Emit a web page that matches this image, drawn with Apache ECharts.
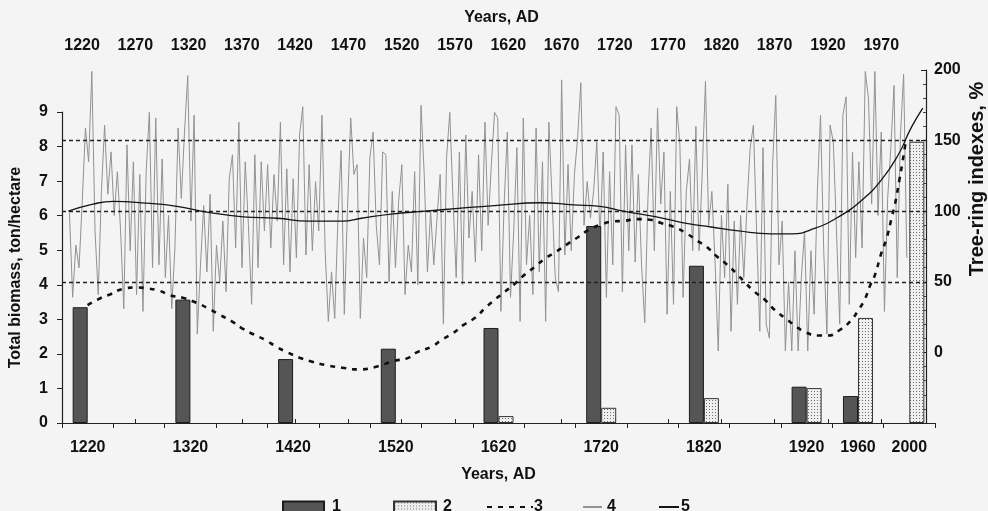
<!DOCTYPE html>
<html>
<head>
<meta charset="utf-8">
<script src="https://cdn.jsdelivr.net/npm/echarts@6/dist/echarts.min.js"></script>
<style>
html,body{margin:0;padding:0;background:#f4f4f4;}
#chart{width:988px;height:511px;}
</style>
</head>
<body>
<div id="chart"></div>
<script>
// ---- Data ----
const periodLabels = ['1220','','1320','','1420','','1520','','1620','','1720','','1820','','1920','1960','2000'];
const biomassSeries1 = [3.35,'-',3.57,'-',1.85,'-',2.15,'-',2.75,'-',5.7,'-',4.55,'-',1.05,0.78,'-'];
const biomassSeries2 = ['-','-','-','-','-','-','-','-',0.2,'-',0.44,'-',0.72,'-',1.01,3.04,8.14];

const topAxisYears = [1220,1270,1320,1370,1420,1470,1520,1570,1620,1670,1720,1770,1820,1870,1920,1970];
const rightAxisTicks = [0,50,100,150,200];
const guideLevels = [50,100,150];

// tree-ring index (%), sampled every 3 years from 1208
const treeRingStart = 1208;
const treeRingStep = 3;
const treeRingValues = [
 99,39,76,60,107,159,135,199,86,41,
 114,161,112,142,97,128,86,31,147,72,
 135,41,126,29,128,170,60,166,62,137,
 53,97,31,74,159,109,156,196,93,168,
 13,62,104,57,112,15,76,50,93,43,
 123,140,74,163,60,135,90,34,140,60,
 135,86,133,74,126,93,
 163,62,130,57,123,67,154,174,69,133,
 72,121,86,168,72,22,57,24,95,143,
 27,102,166,126,133,24,81,53,138,156,
 90,62,142,140,50,114,60,107,133,41,
 76,57,128,48,175,126,57,100,62,95,
 126,20,138,170,109,53,142,48,154,81,
 114,64,140,72,163,90,133,170,
 166,29,105,156,39,86,145,22,166,62,
 97,41,159,57,135,22,163,109,53,43,
 193,69,133,72,126,152,191,90,121,95,
 114,149,81,142,39,128,62,174,168,43,
 147,72,147,64,126,62,21,109,159,72,
 173,105,142,27,114,34,174,147,39,114,
 137,72,160,72,128,192,90,
 114,64,1,97,53,119,15,93,34,97,
 53,105,145,161,86,15,145,20,10,133,
 182,62,93,1,50,1,72,1,53,86,
 1,72,27,114,168,72,13,161,149,86,
 20,168,181,34,142,67,135,74,199,180,
 105,199,97,156,29,109,145,189,53,154,
 197,67
];

// smoothed tree-ring index (%)
const smoothYears = [1207,1230,1249,1280,1309,1340,1371,1403,1432,1464,1482,1510,1542,1573,1607,1650,1681,1706,1728,1759,1790,1809,1836,1867,1886,1908,1930,1952,1970,1986,1998,2009];
const smoothValues = [100,105,107,105.7,103.4,99,96,95,93,93,95,98,100,102,104,106,104.5,103.4,100,96,91,89,86,84,84,88,96,108,122,140,159,173];

// biomass trend (ton/hectare)
const trendYears = [1225,1237,1246,1258,1270,1280,1293,1302,1316,1327,1338,1349,1360,1370,1381,1392,1402,1413,1424,1435,1448,1464,1479,1495,1513,1525,1535,1548,1557,1568,1578,1589,1598,1607,1615,1626,1636,1645,1654,1665,1675,1686,1695,1706,1718,1729,1740,1753,1764,1775,1787,1797,1806,1815,1825,1834,1842,1851,1861,1870,1880,1889,1898,1911,1920,1931,1941,1948,1955,1959,1964,1970,1975,1980,1983,1987,1990,1993];
const trendValues = [3.41,3.61,3.72,3.88,3.92,3.9,3.82,3.70,3.61,3.48,3.32,3.13,2.95,2.74,2.56,2.40,2.21,2.04,1.89,1.78,1.68,1.60,1.55,1.62,1.80,1.87,2.06,2.21,2.40,2.60,2.84,3.05,3.32,3.56,3.76,4.03,4.31,4.52,4.75,4.96,5.17,5.39,5.58,5.73,5.83,5.85,5.90,5.88,5.78,5.68,5.49,5.28,5.10,4.84,4.59,4.33,4.07,3.80,3.56,3.27,3.03,2.82,2.64,2.53,2.53,2.69,2.95,3.24,3.61,3.94,4.28,4.91,5.34,5.97,6.35,7.03,7.56,8.14];

// ---- Build ----
const treeRingData = treeRingValues.map((v,i)=>[treeRingStart + i*treeRingStep, v]);
const smoothData = smoothYears.map((y,i)=>[y, smoothValues[i]]);
const trendData = trendYears.map((y,i)=>[y, trendValues[i]]);

function dotPattern(){
  const c = document.createElement('canvas');
  c.width = 3; c.height = 3;
  const g = c.getContext('2d');
  g.fillStyle = '#efefef'; g.fillRect(0,0,3,3);
  g.fillStyle = '#707070'; g.fillRect(1,1,1,1);
  return c;
}
const pattern = {image: dotPattern(), repeat: 'repeat'};

const FONT = 'Liberation Sans, Arial, sans-serif';
const INK = '#111';
const lbl = {color: INK, fontFamily: FONT, fontWeight: 'bold', fontSize: 16};
const hiddenSymbol = {opacity: 0, borderWidth: 0};

const chart = echarts.init(document.getElementById('chart'), null, {renderer:'canvas'});
chart.setOption({
  animation: false,
  backgroundColor: '#f4f4f4',
  grid: [
    {left: 62, right: 53, top: 112, bottom: 88},
    {left: 62, right: 62, top: 70, bottom: 88},
    {left: 80, right: 65, top: 70, bottom: 88}
  ],
  legend: [
    {data:['1'], left: 282, top: 499, itemWidth: 41, itemHeight: 11, icon:'rect', padding:0, textStyle: Object.assign({}, lbl, {padding:[0,0,0,3]})},
    {data:['2'], left: 393, top: 499, itemWidth: 42, itemHeight: 11, icon:'rect', padding:0, textStyle: Object.assign({}, lbl, {padding:[0,0,0,2]})},
    {data:['3'], left: 486, top: 499, itemWidth: 46, itemHeight: 11, padding:0, itemStyle: hiddenSymbol, textStyle: Object.assign({}, lbl, {padding:[0,0,0,-4]})},
    {data:['4'], left: 582, top: 499, itemWidth: 19, itemHeight: 11, padding:0, itemStyle: hiddenSymbol, textStyle: Object.assign({}, lbl, {padding:[0,0,0,0]})},
    {data:['5'], left: 658, top: 499, itemWidth: 20, itemHeight: 11, padding:0, itemStyle: hiddenSymbol, textStyle: Object.assign({}, lbl, {padding:[0,0,0,-3]})}
  ],
  xAxis: [
    {
      gridIndex: 0, type: 'category', data: periodLabels, boundaryGap: true,
      axisLine: {lineStyle: {color: '#222', width: 1.2}},
      axisTick: {show: true, interval: 0, length: 5, lineStyle: {color: '#222'}},
      axisLabel: Object.assign({interval: 0, margin: 17}, lbl),
      splitLine: {show: false},
      name: 'Years, AD', nameLocation: 'middle', nameGap: 44, nameTextStyle: lbl
    },
    {gridIndex: 1, type: 'value', min: 1201, max: 2012, show: false},
    {
      gridIndex: 2, type: 'value', position: 'top', min: 1218.1, max: 2009.2,
      axisLine: {show: true, lineStyle: {color: '#222', width: 1.2}},
      axisTick: {show: true, length: 4, customValues: topAxisYears, lineStyle: {color: '#222'}},
      axisLabel: Object.assign({margin: 16, customValues: topAxisYears, formatter: v => String(v)}, lbl),
      splitLine: {show: false},
      name: 'Years, AD', nameLocation: 'middle', nameGap: 44, nameTextStyle: lbl
    }
  ],
  yAxis: [
    {
      gridIndex: 0, type: 'value', min: 0, max: 9, interval: 1,
      axisLine: {show: true, lineStyle: {color: '#222', width: 1.2}},
      axisTick: {show: true, length: 5, lineStyle: {color: '#222'}},
      axisLabel: Object.assign({margin: 14}, lbl),
      splitLine: {show: false},
      name: 'Total biomass, ton/hectare', nameLocation: 'middle', nameGap: 38, nameTextStyle: lbl
    },
    {
      gridIndex: 1, type: 'value', position: 'right', min: -50, max: 200, interval: 50,
      axisLine: {show: true, lineStyle: {color: '#222', width: 1.2}},
      axisTick: {show: true, inside: true, length: 5, lineStyle: {color: '#222'}},
      minorTick: {show: true, splitNumber: 5, length: 3, lineStyle: {color: '#444'}},
      axisLabel: Object.assign({margin: 8, formatter: v => rightAxisTicks.indexOf(v) >= 0 ? String(v) : ''}, lbl),
      splitLine: {show: false}
    },
    {gridIndex: 1, type: 'value', min: 0, max: 10.214, show: false},
    {gridIndex: 2, type: 'value', show: false}
  ],
  graphic: [
    {type: 'text', x: 977, y: 179, rotation: Math.PI/2,
     style: {text: 'Tree-ring indexes, %', font: 'bold 20px ' + FONT, fill: INK, align: 'center', verticalAlign: 'middle', textAlign: 'center', textVerticalAlign: 'middle'}}
  ],
  series: [
    {
      name: '4', type: 'line', xAxisIndex: 1, yAxisIndex: 1, data: treeRingData,
      symbol: 'none', z: 2,
      lineStyle: {color: '#929292', width: 1},
      itemStyle: {color: '#929292'},
      markLine: {
        silent: true, symbol: 'none', label: {show: false},
        lineStyle: {color: '#222', width: 1.3, type: [4, 3]},
        data: guideLevels.map(v => ({yAxis: v}))
      }
    },
    {
      name: '1', type: 'bar', xAxisIndex: 0, yAxisIndex: 0, data: biomassSeries1,
      barWidth: 15, barGap: '0%', z: 3,
      itemStyle: {color: '#555555', borderColor: '#1c1c1c', borderWidth: 1}
    },
    {
      name: '2', type: 'bar', xAxisIndex: 0, yAxisIndex: 0, data: biomassSeries2,
      barWidth: 15, barGap: '0%', z: 3,
      itemStyle: {color: pattern, borderColor: '#333', borderWidth: 1}
    },
    {
      name: '5', type: 'line', xAxisIndex: 1, yAxisIndex: 1, data: smoothData,
      smooth: true, symbol: 'none', z: 5,
      lineStyle: {color: '#151515', width: 1.3},
      itemStyle: {color: '#151515'}
    },
    {
      name: '3', type: 'line', xAxisIndex: 1, yAxisIndex: 2, data: trendData,
      smooth: true, symbol: 'none', z: 5,
      lineStyle: {color: '#111', width: 2.6, type: [5, 6]},
      itemStyle: {color: '#111'}
    }
  ]
});
</script>
</body>
</html>
